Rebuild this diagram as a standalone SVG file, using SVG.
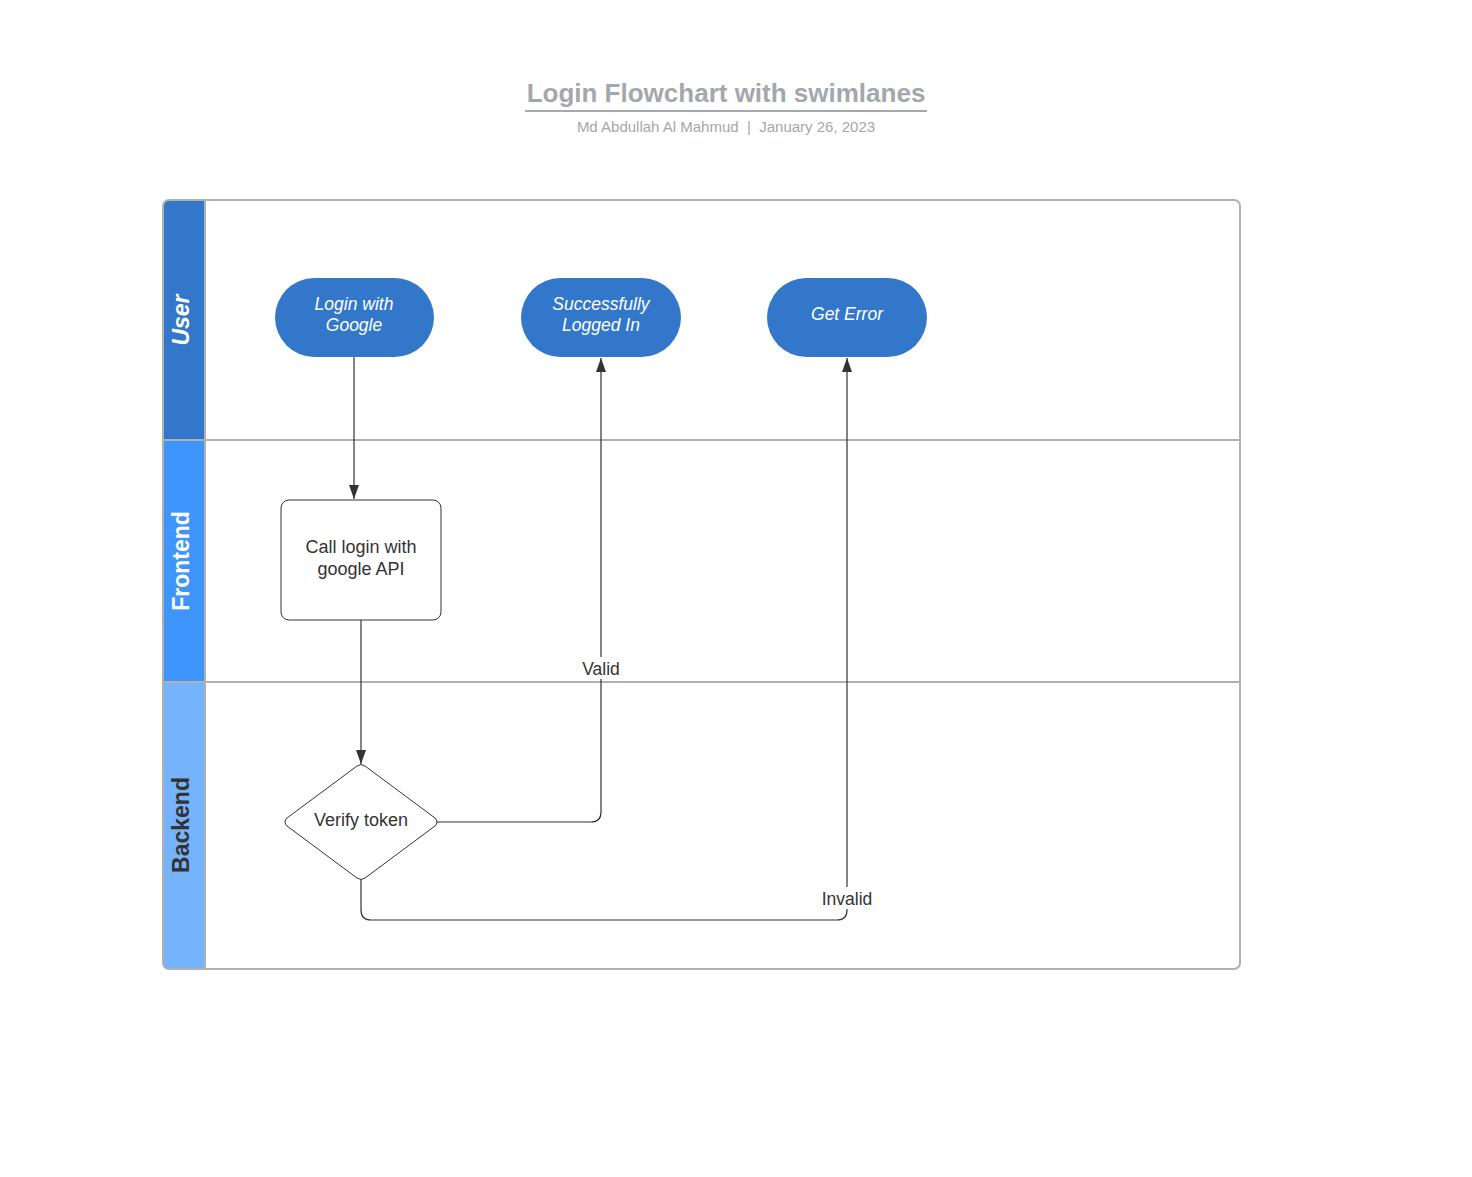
<svg xmlns="http://www.w3.org/2000/svg" width="1472" height="1177" viewBox="0 0 1472 1177">
<defs>
<style>
.title{font-family:"Liberation Sans",Arial,sans-serif;font-size:26px;font-weight:bold;fill:#a3a7ae}
.sub{font-family:"Liberation Sans",Arial,sans-serif;font-size:15px;fill:#a3a7ae}
.lane{font-family:"Liberation Sans",Arial,sans-serif;font-size:23px;font-weight:bold}
.pill{fill:#3277c9}
.ptxt{font-family:"Liberation Sans",Arial,sans-serif;font-size:17.5px;font-style:italic;fill:#ffffff}
.ntxt{font-family:"Liberation Sans",Arial,sans-serif;font-size:18px;fill:#333333}
.box{fill:#ffffff;stroke:#333333;stroke-width:1}
.conn{fill:none;stroke:#333333;stroke-width:1.2}
.lbl{font-family:"Liberation Sans",Arial,sans-serif;font-size:17.5px;fill:#333333}
.grid{stroke:#b0b0b0;stroke-width:2;fill:none}
</style>
<marker id="arr" viewBox="0 0 14 10" refX="14" refY="5" markerWidth="14" markerHeight="10" markerUnits="userSpaceOnUse" orient="auto">
<path d="M0,0 L14,5 L0,10 z" fill="#333333"/>
</marker>
</defs>
<rect width="1472" height="1177" fill="#ffffff"/>

<g id="title">
<text class="title" x="726" y="102" text-anchor="middle">Login Flowchart with swimlanes</text>
<line x1="525" y1="111" x2="927" y2="111" stroke="#a3a7ae" stroke-width="2"/>
<text class="sub" x="726" y="132" text-anchor="middle">Md Abdullah Al Mahmud&#160;&#160;|&#160;&#160;January 26, 2023</text>
</g>

<g id="swimlanes">
<path d="M169,200 H205 V440 H163 V206 Q163,200 169,200 Z" fill="#3277c9"/>
<rect x="163" y="440" width="42" height="242" fill="#3e95fc"/>
<path d="M163,682 H205 V969 H169 Q163,969 163,963 Z" fill="#76b3fd"/>
<rect class="grid" x="163" y="200" width="1077" height="769" rx="6"/>
<line class="grid" x1="205" y1="200" x2="205" y2="969"/>
<line class="grid" x1="163" y1="440" x2="1240" y2="440"/>
<line class="grid" x1="163" y1="682" x2="1240" y2="682"/>
<text class="lane" transform="translate(189,320) rotate(-90)" text-anchor="middle" fill="#ffffff" font-style="italic">User</text>
<text class="lane" transform="translate(189,561) rotate(-90)" text-anchor="middle" fill="#ffffff">Frontend</text>
<text class="lane" transform="translate(189,825) rotate(-90)" text-anchor="middle" fill="#333333">Backend</text>
</g>

<g id="connectors">
<path class="conn" d="M354,357 V499" marker-end="url(#arr)"/>
<path class="conn" d="M361,620 V764" marker-end="url(#arr)"/>
<path class="conn" d="M437,822 H591 Q601,822 601,812 V358" marker-end="url(#arr)"/>
<path class="conn" d="M361,879 V910 Q361,920 371,920 H837 Q847,920 847,910 V358" marker-end="url(#arr)"/>
<rect x="578" y="657" width="46" height="22" fill="#ffffff"/>
<text class="lbl" x="601" y="675" text-anchor="middle">Valid</text>
<rect x="818" y="887" width="58" height="22" fill="#ffffff"/>
<text class="lbl" x="847" y="905" text-anchor="middle">Invalid</text>
</g>

<g id="login-google">
<rect class="pill" x="275" y="278" width="159" height="79" rx="39.5"/>
<text class="ptxt" x="354" y="310" text-anchor="middle">Login with</text>
<text class="ptxt" x="354" y="331" text-anchor="middle">Google</text>
</g>

<g id="logged-in">
<rect class="pill" x="521" y="278" width="160" height="79" rx="39.5"/>
<text class="ptxt" x="601" y="310" text-anchor="middle">Successfully</text>
<text class="ptxt" x="601" y="331" text-anchor="middle">Logged In</text>
</g>

<g id="get-error">
<rect class="pill" x="767" y="278" width="160" height="79" rx="39.5"/>
<text class="ptxt" x="847" y="320" text-anchor="middle">Get Error</text>
</g>

<g id="call-api">
<rect class="box" x="281" y="500" width="160" height="120" rx="8"/>
<text class="ntxt" x="361" y="553" text-anchor="middle">Call login with</text>
<text class="ntxt" x="361" y="575" text-anchor="middle">google API</text>
</g>

<g id="verify-token">
<path class="box" d="M357,766 Q361,763 365,766 L435,818 Q439,822 435,826 L365,878 Q361,881 357,878 L287,826 Q283,822 287,818 Z"/>
<text class="ntxt" x="361" y="826" text-anchor="middle">Verify token</text>
</g>
</svg>
